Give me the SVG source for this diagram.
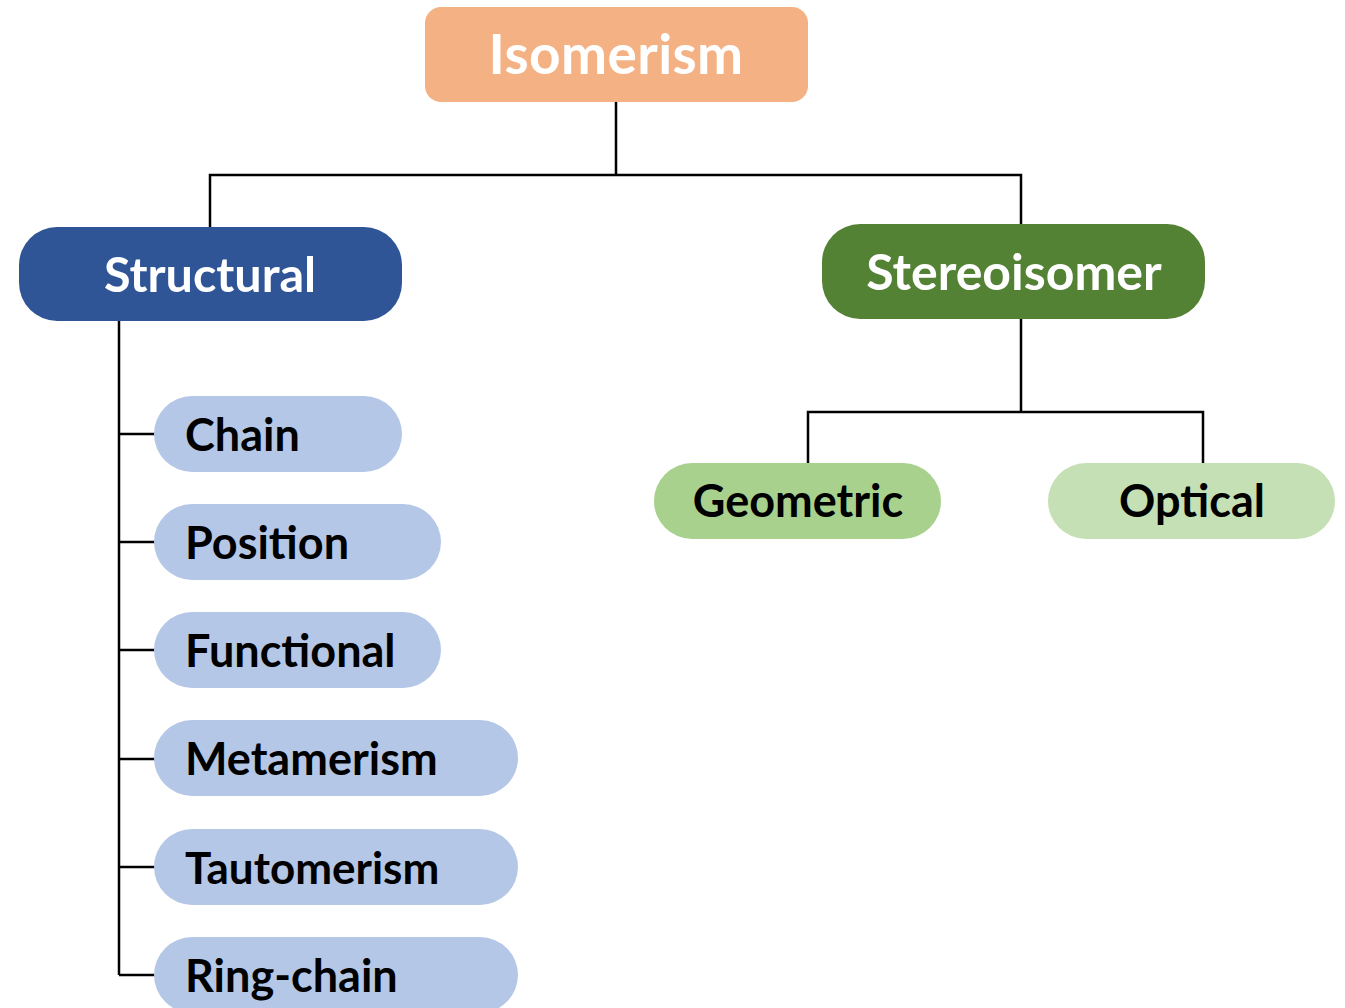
<svg xmlns="http://www.w3.org/2000/svg" width="1345" height="1008" viewBox="0 0 1345 1008">
  <style>
    .lbl { font-family: Lato, "Open Sans", "Liberation Sans", sans-serif; font-weight: 700; }
    .big { font-size: 50px; fill: #ffffff; text-anchor: middle; }
    .small { font-size: 45px; fill: #000000; }
    .mid { font-size: 45px; fill: #000000; text-anchor: middle; }
    .wire { fill: none; stroke: #000000; stroke-width: 2.5; }
    .sub { fill: #B4C7E7; }
  </style>
  <rect width="1345" height="1008" fill="#ffffff"/>

  <!-- connectors -->
  <g id="connectors">
    <path class="wire" d="M616 102 V175 M210 227 V175 H1021 V224"/>
    <path class="wire" d="M119 321 V975 M119 434 H155 M119 542 H155 M119 650 H155 M119 759 H155 M119 867 H155 M119 975 H155"/>
    <path class="wire" d="M1021 319 V412 M808 463 V412 H1203 V463"/>
  </g>

  <!-- root -->
  <g id="isomerism">
    <rect x="425" y="7" width="383" height="95" rx="16" fill="#F4B183"/>
    <text class="lbl big" x="616" y="74" style="font-size:55px;letter-spacing:0.4px">Isomerism</text>
  </g>

  <!-- first level -->
  <g id="structural">
    <rect x="19" y="227" width="383" height="94" rx="38" fill="#2F5597"/>
    <text class="lbl big" x="210" y="292" style="font-size:48.5px">Structural</text>
  </g>
  <g id="stereoisomer">
    <rect x="822" y="224" width="383" height="95" rx="38" fill="#548235"/>
    <text class="lbl big" x="1014" y="290">Stereoisomer</text>
  </g>

  <!-- structural kinds -->
  <g id="chain">
    <rect class="sub" x="154" y="396" width="248" height="76" rx="38"/>
    <text class="lbl small" x="185" y="451">Chain</text>
  </g>
  <g id="position">
    <rect class="sub" x="154" y="504" width="287" height="76" rx="38"/>
    <text class="lbl small" x="185" y="559">Position</text>
  </g>
  <g id="functional">
    <rect class="sub" x="154" y="612" width="287" height="76" rx="38"/>
    <text class="lbl small" x="185" y="667">Functional</text>
  </g>
  <g id="metamerism">
    <rect class="sub" x="154" y="720" width="364" height="76" rx="38"/>
    <text class="lbl small" x="185" y="775">Metamerism</text>
  </g>
  <g id="tautomerism">
    <rect class="sub" x="154" y="829" width="364" height="76" rx="38"/>
    <text class="lbl small" x="185" y="884" style="font-size:44px">Tautomerism</text>
  </g>
  <g id="ring-chain">
    <rect class="sub" x="154" y="937" width="364" height="76" rx="38"/>
    <text class="lbl small" x="185" y="992">Ring-chain</text>
  </g>

  <!-- stereoisomer kinds -->
  <g id="geometric">
    <rect x="654" y="463" width="287" height="76" rx="38" fill="#A9D18E"/>
    <text class="lbl mid" x="798" y="517">Geometric</text>
  </g>
  <g id="optical">
    <rect x="1048" y="463" width="287" height="76" rx="38" fill="#C5E0B4"/>
    <text class="lbl mid" x="1192" y="517">Optical</text>
  </g>
</svg>
